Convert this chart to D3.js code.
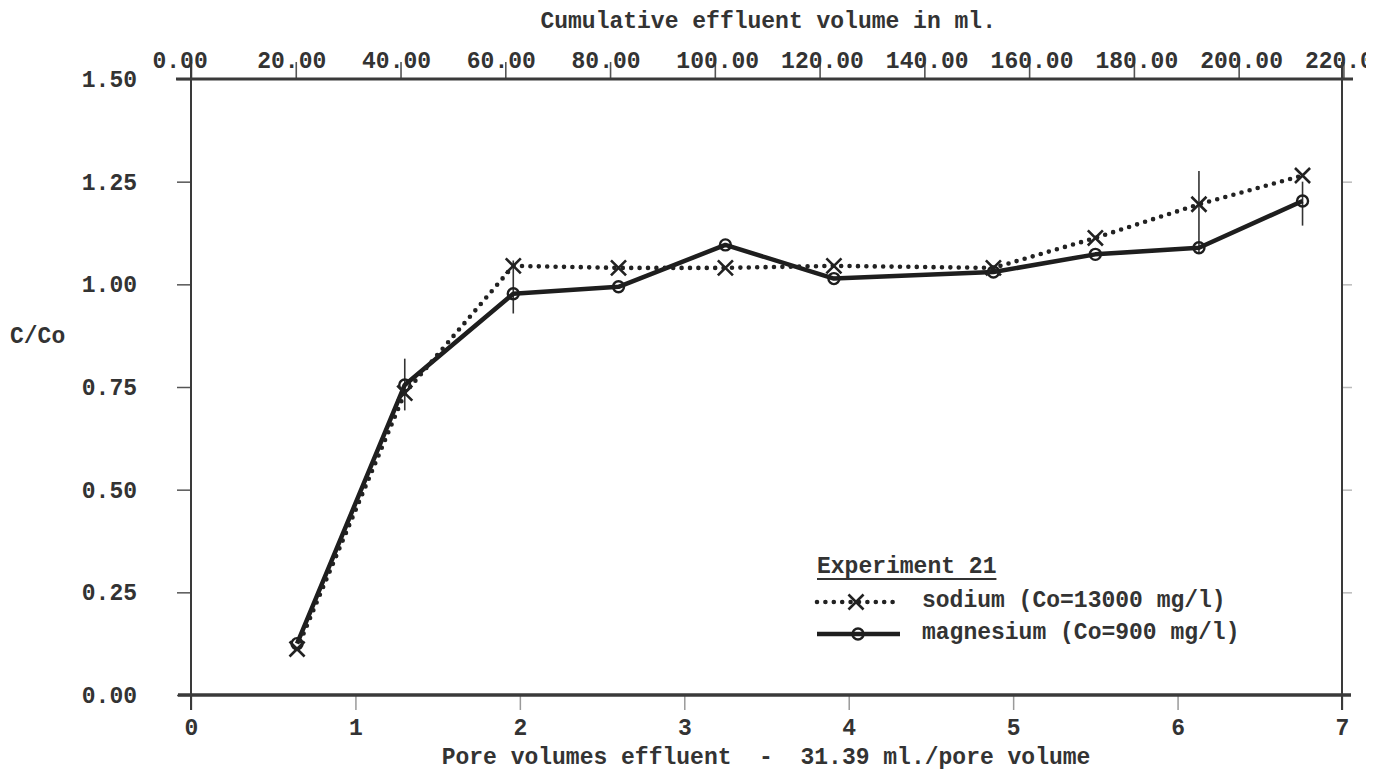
<!DOCTYPE html>
<html>
<head>
<meta charset="utf-8">
<script src="https://cdn.jsdelivr.net/npm/d3@7"></script>
<style>
  html, body { margin: 0; padding: 0; background: #fff; }
  svg { display: block; }
  text { font-family: "Liberation Mono", "DejaVu Sans Mono", monospace; font-weight: bold; fill: #333; }
</style>
</head>
<body>
<svg id="chart" width="1393" height="772"></svg>
<script>
// Breakthrough data, experiment 21
const ML_PER_PORE_VOLUME = 31.39;
const poreVolumes = [0.645, 1.30, 1.96, 2.60, 3.25, 3.91, 4.88, 5.50, 6.13, 6.76];
const sodium      = [0.112, 0.735, 1.045, 1.040, 1.040, 1.045, 1.040, 1.113, 1.195, 1.265];
const magnesium   = [0.125, 0.755, 0.977, 0.994, 1.096, 1.014, 1.030, 1.073, 1.089, 1.203];
// vertical range bars: [pore volume, low, high]
const rangeBars = [[1.30, 0.693, 0.819], [1.96, 0.929, 1.058], [6.13, 1.075, 1.276], [6.76, 1.143, 1.250]];

const poreTicks = [0, 1, 2, 3, 4, 5, 6, 7];
const volumeTicks = [0, 20, 40, 60, 80, 100, 120, 140, 160, 180, 200, 220];
const ratioTicks = [0, 0.25, 0.5, 0.75, 1.0, 1.25, 1.5];

const titleTop = "Cumulative effluent volume in ml.";
const titleBottom = "Pore volumes effluent  -  31.39 ml./pore volume";
const titleLeft = "C/Co";
const legendTitle = "Experiment 21";
const seriesNames = ["sodium (Co=13000 mg/l)", "magnesium (Co=900 mg/l)"];

const FS = 23;             // font size

const svg = d3.select("#chart");
const x = d3.scaleLinear().domain([0, 7]).range([191, 1342]);
const y = d3.scaleLinear().domain([0, 1.5]).range([695, 79]);
const xVol = d3.scaleLinear().domain([0, 220]).range([x(0), x(220 / ML_PER_PORE_VOLUME)]);

const ink = "#333";

// clip for the cut-off edge on the top-right label (in the top axis group's coordinates)
svg.append("defs").append("clipPath").attr("id", "topclip")
  .append("rect").attr("x", 0).attr("y", -100).attr("width", 1366).attr("height", 110);

// ---- bottom axis (pore volumes)
const gb = svg.append("g").attr("transform", `translate(0,${y(0)})`)
  .call(d3.axisBottom(x).tickValues(poreTicks).tickSize(15).tickFormat(d3.format("d")));
gb.select(".domain").remove();
gb.selectAll(".tick line").attr("stroke", "#9a9a9a").attr("stroke-width", 1.5);
gb.selectAll(".tick text").attr("y", 40).attr("dy", 0).style("font-size", FS + "px").style("fill", "#333");

// ---- top axis (cumulative volume); labels start a fixed distance left of each tick
const gt = svg.append("g").attr("transform", `translate(0,${y(1.5)})`).attr("clip-path", "url(#topclip)")
  .call(d3.axisTop(xVol).tickValues(volumeTicks).tickSize(17).tickFormat(d3.format(".2f")));
gt.select(".domain").remove();
gt.selectAll(".tick line").attr("stroke", "#555").attr("stroke-width", 1.6);
gt.selectAll(".tick text")
  .attr("y", -11).attr("dy", 0)
  .attr("text-anchor", "start")
  .attr("x", -39)
  .style("font-size", FS + "px").style("fill", "#333");

// ---- left axis
const gl = svg.append("g").attr("transform", `translate(${x(0)},0)`)
  .call(d3.axisLeft(y).tickValues(ratioTicks).tickSize(14).tickPadding(40).tickFormat(d3.format(".2f")));
gl.select(".domain").remove();
gl.selectAll(".tick line").attr("stroke", "#555").attr("stroke-width", 1.5);
gl.selectAll(".tick text").style("font-size", FS + "px").style("fill", "#333");

// ---- right axis (ticks only)
const gr = svg.append("g").attr("transform", `translate(${x(7)},0)`)
  .call(d3.axisRight(y).tickValues(ratioTicks.slice(1, -1)).tickSize(10).tickFormat(""));
gr.select(".domain").remove();
gr.selectAll(".tick line").attr("stroke", "#bbb").attr("stroke-width", 1.5);

// ---- frame
const frame = svg.append("g").attr("stroke", "#3a3a3a").attr("fill", "none");
frame.append("line").attr("x1", x(0) - 15).attr("x2", x(7) + 11).attr("y1", y(1.5)).attr("y2", y(1.5)).attr("stroke-width", 3);
frame.append("line").attr("x1", x(0) - 13).attr("x2", x(7) + 9).attr("y1", y(0)).attr("y2", y(0)).attr("stroke-width", 3.5);
frame.append("line").attr("x1", x(0)).attr("x2", x(0)).attr("y1", y(1.5) - 14).attr("y2", y(0) + 15).attr("stroke-width", 2);
frame.append("line").attr("x1", x(7)).attr("x2", x(7)).attr("y1", y(1.5) - 17).attr("y2", y(0) + 15).attr("stroke-width", 2);

// ---- titles
svg.append("text").attr("x", (xVol(0) + xVol(220)) / 2 + 1).attr("y", 28).attr("text-anchor", "middle")
  .style("font-size", FS + "px").text(titleTop);
svg.append("text").attr("x", 766).attr("y", 764).attr("text-anchor", "middle")
  .attr("xml:space", "preserve").style("white-space", "pre")
  .style("font-size", FS + "px").text(titleBottom);
svg.append("text").attr("x", 10).attr("y", y(0.875) + 7)
  .style("font-size", FS + "px").text(titleLeft);

// ---- series
const pts = (vals) => poreVolumes.map((p, i) => [p, vals[i]]);
const line = d3.line().x(d => x(d[0])).y(d => y(d[1]));

// range bars
svg.append("g").selectAll("line").data(rangeBars).join("line")
  .attr("x1", d => x(d[0])).attr("x2", d => x(d[0]))
  .attr("y1", d => y(d[2])).attr("y2", d => y(d[1]))
  .attr("stroke", ink).attr("stroke-width", 1.6);

// magnesium: solid heavy line with open circles
svg.append("path").datum(pts(magnesium)).attr("d", line)
  .attr("fill", "none").attr("stroke", "#1e1e1e").attr("stroke-width", 4.5).attr("stroke-linejoin", "round");
svg.append("g").selectAll("circle").data(pts(magnesium)).join("circle")
  .attr("cx", d => x(d[0])).attr("cy", d => y(d[1])).attr("r", 5.5)
  .attr("fill", "none").attr("stroke", "#1e1e1e").attr("stroke-width", 2.4);

// sodium: dotted line with X markers
svg.append("path").datum(pts(sodium)).attr("d", line)
  .attr("fill", "none").attr("stroke", "#222").attr("stroke-width", 4.6)
  .attr("stroke-dasharray", "0 8.4").attr("stroke-linecap", "round");
const xSym = d3.symbol().type(d3.symbolX).size(150);
svg.append("g").selectAll("path").data(pts(sodium)).join("path")
  .attr("transform", d => `translate(${x(d[0])},${y(d[1])})`)
  .attr("d", xSym).attr("fill", "none").attr("stroke", "#222").attr("stroke-width", 2.6);

// ---- legend
const lg = svg.append("g").attr("transform", "translate(817,0)");
const lt = lg.append("text").attr("x", 0).attr("y", 573).style("font-size", FS + "px").text(legendTitle);
const lw = lt.node().getComputedTextLength();
lg.append("line").attr("x1", 0).attr("x2", lw).attr("y1", 579).attr("y2", 579).attr("stroke", "#333").attr("stroke-width", 2);

lg.append("line").attr("x1", 0).attr("x2", 81).attr("y1", 602).attr("y2", 602)
  .attr("stroke", "#222").attr("stroke-width", 4.6).attr("stroke-dasharray", "0 8.4").attr("stroke-linecap", "round");
lg.append("path").attr("transform", "translate(39,602)").attr("d", xSym)
  .attr("fill", "none").attr("stroke", "#222").attr("stroke-width", 2.6);
lg.append("text").attr("x", 105).attr("y", 607).style("font-size", FS + "px").text(seriesNames[0]);

lg.append("line").attr("x1", 0).attr("x2", 83).attr("y1", 634).attr("y2", 634)
  .attr("stroke", "#1e1e1e").attr("stroke-width", 4.5);
lg.append("circle").attr("cx", 41).attr("cy", 634).attr("r", 5.5)
  .attr("fill", "none").attr("stroke", "#1e1e1e").attr("stroke-width", 2.4);
lg.append("text").attr("x", 105).attr("y", 639).style("font-size", FS + "px").text(seriesNames[1]);
</script>
</body>
</html>
